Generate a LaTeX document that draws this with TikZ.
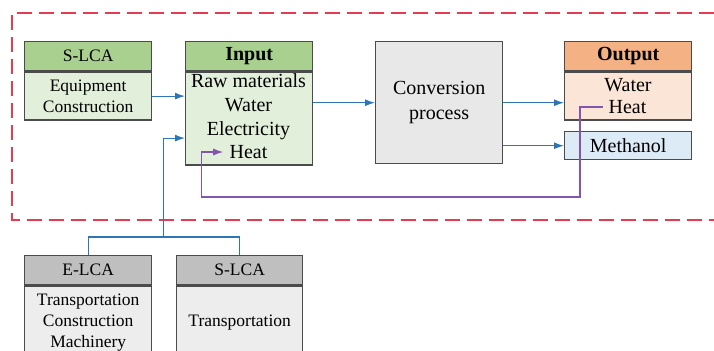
\documentclass[tikz,border=0pt]{standalone}
\usepackage{fontspec}
\setmainfont{Liberation Serif}
\usepackage{tikz}
\usetikzlibrary{positioning, arrows.meta}

% Couleurs
\definecolor{boxline}{RGB}{75,75,75}
\definecolor{hdgreen}{RGB}{169,208,142}
\definecolor{bdgreen}{RGB}{226,239,218}
\definecolor{hdorange}{RGB}{244,177,131}
\definecolor{bdorange}{RGB}{251,229,214}
\definecolor{bdblue}{RGB}{221,235,247}
\definecolor{convgray}{RGB}{232,232,232}
\definecolor{hdgray}{RGB}{191,191,191}
\definecolor{bdgray}{RGB}{237,237,237}
\definecolor{flowblue}{RGB}{46,117,182}
\definecolor{heatpurple}{RGB}{130,85,175}
\definecolor{framered}{RGB}{228,60,80}

\begin{document}
\begin{tikzpicture}[
		x=0.5pt, y=-0.5pt,
		% Style des en-têtes de blocs
		header/.style={
			fill=#1,
			draw=boxline,
			line width=0.7pt,
			minimum width=63.5pt,
			minimum height=14.5pt,
			inner sep=0pt,
			anchor=north west,
			font=\fontsize{10}{12}\selectfont
		},
		% Style des corps de blocs
		content/.style={
			fill=#1,
			draw=boxline,
			line width=0.7pt,
			minimum width=63.5pt,
			inner sep=0pt,
			align=center,
			font=\fontsize{10}{12}\selectfont
		},
		% Petits blocs LCA (texte plus petit)
		small/.style={
			font=\fontsize{8.75}{10.5}\selectfont
		},
		% Texte seul dans un bloc
		textline/.style={
			inner sep=1pt,
			align=center
		},
		% Flèches bleues
		flowarrow/.style={
			->,
			>={Latex[length=5pt,width=3.5pt]},
			line width=0.6pt,
			flowblue
		},
		flowline/.style={
			line width=0.6pt,
			flowblue
		},
		% Retour de chaleur
		heatarrow/.style={
			->,
			>={Latex[length=5pt,width=3.5pt]},
			line width=0.6pt,
			heatpurple
		},
		% Cadre en pointillés
		frame/.style={
			framered,
			line width=1pt,
			dash pattern=on 7.5pt off 3.5pt
		}
		]
		\useasboundingbox (0,0) rectangle (714,350);
		\clip (0,0) rectangle (714,350);
		
		% --- CADRE ---
		\draw[frame] (714,13) -- (12,13) -- (12,220) -- (714,220);
		
		% --- BLOCS DU HAUT ---
		\node[header=hdgreen, small] (slca) at (24,41) {S-LCA};
		\node[content=bdgreen, small, minimum height=24pt, below=0pt of slca] (equip) {Equipment\\Construction};
		
		\node[header=hdgreen, font=\bfseries] (inhdr) at (185,41) {Input};
		\node[content=bdgreen, minimum height=46.5pt, below=0pt of inhdr] (inbody) {};
		\node[textline] (inlist) at (248.5,106.5) {Raw materials\\Water\\Electricity};
		\node[textline, inner xsep=3pt] (inheat) at (248.5,152) {Heat};
		
		\node[content=convgray, minimum height=61pt, anchor=north west, font=\fontsize{10}{12.5}\selectfont] (conv) at (375,41) {Conversion\\process};
		
		\node[header=hdorange, font=\bfseries] (outhdr) at (564,41) {Output};
		\node[content=bdorange, minimum height=24pt, below=0pt of outhdr] (outbody) {};
		\node[textline] (outwater) at (628,85) {Water};
		\node[textline, inner xsep=2.5pt] (outheat) at (627.5,107) {Heat};
		
		\node[content=bdblue, minimum height=14pt, anchor=north west] (meth) at (564,131) {Methanol};
		
		% --- BLOCS DU BAS ---
		\node[header=hdgray, small] (elca) at (24,255) {E-LCA};
		\node[content=bdgray, small, minimum height=36pt, below=0pt of elca] (elcabody) {Transportation\\Construction\\Machinery};
		
		\node[header=hdgray, small, minimum width=63pt] (slcat) at (176,255) {S-LCA};
		\node[content=bdgray, small, minimum width=63pt, minimum height=36pt, below=0pt of slcat] (slcatbody) {Transportation};
		
		% --- FLÈCHES ---
		\draw[flowarrow] (equip.east) -- (equip.east -| inbody.west);
		\draw[flowarrow] (inbody.east |- conv.west) -- (conv.west);
		\draw[flowarrow] (conv.east) -- (conv.east -| outbody.west);
		\draw[flowarrow] (conv.east |- meth.west) -- (meth.west);
		
		% Regroupement du bas vers Input
		\coordinate (join) at (163.25,237);
		\draw[flowline] (elca.north) -- (elca.north |- join) -- (slcat.north |- join) -- (slcat.north);
		\draw[flowarrow] (join) |- ([yshift=-9.75pt]inbody.west);
		
		% Retour de chaleur
		\coordinate (heatback) at (580,197);
		\draw[heatarrow] (outheat.west) -| (heatback) -| ([xshift=-11pt]inheat.west) -- (inheat.west);
		
	\end{tikzpicture}
\end{document}
